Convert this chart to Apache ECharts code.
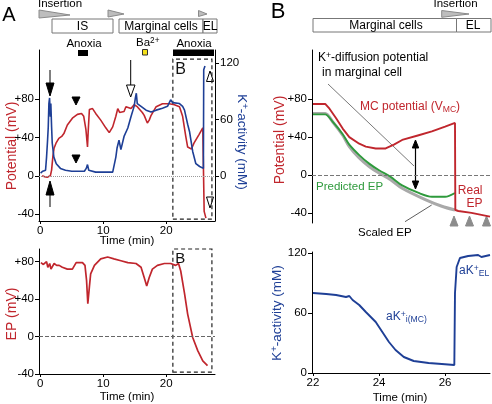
<!DOCTYPE html>
<html><head><meta charset="utf-8">
<script src="https://cdn.jsdelivr.net/npm/echarts@6/dist/echarts.min.js"></script>
<style>html,body{margin:0;padding:0;background:#fff}#c{width:492px;height:404px}</style>
</head><body><div id="c"></div><script>
// ---------- DATA ----------
// Panel A (top): membrane potential (mV) vs time (min)
const aTimeRed = [0.3,0.7,1.1,1.4,1.6,1.8,2.0,2.2,2.5,2.95,3.4,3.75,4.3,5.1,5.9,6.55,6.9,7.25,7.5,7.6,7.8,8.3,8.8,9.6,10.4,10.95,11.5,12.0,12.3,12.6,12.9,13.3,13.6,13.9,14.4,14.9,15.4,15.7,16.2,16.5,17.0,17.3,17.6,18.4,19.4,20.5,21.3,22.1,22.6,23.1,23.4,23.7,24.0,24.4,25.2,25.8,26.0,26.02,26.3];
const aPotential = [0,-1,-1.5,-2,0,6,20,29,34,39,41,44,53,60,64,65,62,48,30,45,69,70,65,58,50,45,51,62,70,66,68,67,72,70,70,74,72,70,66,63,55,58,63,72,75,75,74,72,62,41,30,29,28,34,43,50,52,-37,-44];
// Panel A (top): K+ activity (mM)
const aTimeBlue = [0.05,0.4,0.84,1.0,1.16,1.27,1.37,1.48,1.6,1.68,1.8,1.9,2.16,2.54,3.2,4.0,5.0,6.2,7.0,7.3,7.5,7.7,7.9,8.8,10.0,11.5,11.8,12.0,12.2,12.5,12.8,13.0,13.3,13.9,14.4,14.9,15.1,15.25,15.4,16.0,16.8,17.6,18.4,19.4,20.2,20.7,21.0,21.3,22.1,22.6,22.9,23.4,23.7,24.2,24.7,25.3,25.9,25.95,26.15];
const aKActivity = [3,5,6,20,38,52,77,83,63,77,52,35,20,13,8,6,5,5,5,8,12,6,5,4,4,4,6,20,30,38,28,26,42,51,63,74,83,88,77,74,70,68,70,72,74,81,78,79,77,74,70,55,47,26,13,10,8,113,117];
// Panel A (bottom): EP (mV)
const aTimeEP = [0.1,0.3,0.5,0.8,1.0,1.2,1.5,1.7,2.2,2.6,3.0,3.5,4.3,5.1,5.7,6.7,7.1,7.35,7.55,7.8,8.0,8.6,9.6,10.7,11.7,12.8,13.9,15.2,16.0,16.5,16.9,17.3,17.8,18.6,19.7,20.7,21.5,21.95,22.3,22.9,23.4,24.2,25.0,25.8,26.55];
const aEP = [79,80,77,75,80,74,78,72,78,76,76,74,72,72,79,79,76,60,35,53,67,76,83,85,83,81,79,78,74,63,54,63,72,76,78,78,76,78,70,46,24,-1,-15,-26,-31];
// Panel B (top)
const bTimeMC = [22.0,22.37,22.5,22.7,22.9,23.1,23.4,23.6,23.9,24.2,24.45,24.7,25.2,25.6,26.0,26.3,26.31,26.4,26.8,27.36];
const bMCPotential = [75,75,70,60,49,40,33,30,28,28,32,37,42,46,51,55,-37,-38,-40,-44];
const bTimeScaled = [22.0,22.37,22.6,22.9,23.1,23.4,23.7,24.0,24.35,24.7,25.4,25.9,26.3];
const bScaledEP = [65,65,56,42,30,18,9,2,-5,-14,-26,-33,-37];
const bTimePred = [22.0,22.37,22.6,22.9,23.1,23.4,23.7,24.0,24.35,24.7,25.2,25.6,26.0,26.3];
const bPredictedEP = [64,64,56,43,32,21,12,5,-2,-11,-19,-23,-23,-19];
// Panel B (bottom): K+ activity
const bTimeK = [22.0,22.4,22.7,23.0,23.1,23.2,23.4,23.6,23.9,24.1,24.3,24.5,24.75,25.05,25.5,25.9,26.28,26.3,26.35,26.45,26.7,27.0,27.05,27.1,27.36];
const bKActivity = [80,79,78,76,77,73,68,61,51,41,31,23,16,12,10,9,8,80,106,115,117,118,120,116,118];
// Tick values
const aTimeTicks = [0,10,20];
const potTicks = [-40,0,40,80];
const kTicksA = [0,60,120];
const bTimeTicks = [22,24,26];
const kTicksB = [0,60,120];

// ---------- STYLE ----------
const FF = 'Liberation Sans, Arial, Helvetica, sans-serif';
const RED = '#c0262d', BLUE = '#1e3f96', GREEN = '#2e9a3c', GRAY = '#a9a9a9';
const zip = (a,b) => a.map((t,i)=>[t,b[i]]);
const plus = v => v > 0 ? '+' + v : String(v);

function xAx(grid, min, max, ticks, show){
  return {gridIndex:grid, type:'value', min, max, show: show!==false,
    axisLine:{show:true,onZero:false,lineStyle:{color:'#000',width:1}},
    axisTick:{show:true,customValues:ticks,length:3,lineStyle:{color:'#000'}},
    axisLabel:{customValues:ticks,margin:4,fontSize:11.5,color:'#000',fontFamily:FF},
    splitLine:{show:false}};
}
function yAx(grid, min, max, ticks, pos, fmt){
  return {gridIndex:grid, type:'value', min, max, position:pos,
    axisLine:{show:true,onZero:false,lineStyle:{color:'#000',width:1}},
    axisTick:{show:true,customValues:ticks,length:4,lineStyle:{color:'#000'}},
    axisLabel:{customValues:ticks,margin:5,fontSize:11.5,color:'#000',fontFamily:FF,formatter:fmt||(v=>String(v))},
    splitLine:{show:false}};
}
function txt(x,y,text,size,color,align,extra){
  return Object.assign({type:'text', x, y, silent:true,
    style:{text, font:size+'px '+FF, fontSize:size, fontFamily:FF, fill:color,
      textAlign:align||'left', align:align||'left', textVerticalAlign:'middle', verticalAlign:'middle'}},
    extra&&extra.rotation!==undefined?{rotation:extra.rotation}:{});
}
function poly(points, fill, stroke){
  return {type:'polygon', silent:true, shape:{points}, style:{fill, stroke:stroke||fill, lineWidth:1}};
}
function line(x1,y1,x2,y2,color,w){
  return {type:'line', silent:true, shape:{x1,y1,x2,y2}, style:{stroke:color, lineWidth:w||1}};
}
function rect(x,y,w,h,fill,stroke){
  return {type:'rect', silent:true, shape:{x,y,width:w,height:h}, style:{fill, stroke:stroke||null, lineWidth:1}};
}
const zeroLine = (type,color) => ({symbol:'none', silent:true, label:{show:false},
  lineStyle:{type, color, width:1}, data:[{yAxis:0}]});
const boxB = (x0,y0,x1,y1,fs) => ({silent:true,
  itemStyle:{color:'rgba(0,0,0,0)', borderColor:'#222', borderWidth:1.2, borderType:[4,3]},
  label:{show:true, position:'insideTopLeft', formatter:'B', fontSize:fs, color:'#111', fontFamily:FF, distance:3},
  data:[[{xAxis:x0,yAxis:y0},{xAxis:x1,yAxis:y1}]]});

const supRich = (size,color) => ({
  n:{fontSize:size, fontFamily:FF, fill:color, color:color, lineHeight:size+2},
  s:{fontSize:size*0.72, fontFamily:FF, fill:color, color:color, verticalAlign:'top', lineHeight:size+2},
  b:{fontSize:size*0.72, fontFamily:FF, fill:color, color:color, verticalAlign:'bottom', lineHeight:size+2}
});
function richTxt(x,y,text,size,color,align,rotation){
  const el = {type:'text', x, y, silent:true,
    style:{text, rich:supRich(size,color), font:size+'px '+FF, fill:color,
      textAlign:align||'left', align:align||'left', textVerticalAlign:'middle', verticalAlign:'middle'}};
  if (rotation!==undefined) el.rotation = rotation;
  return el;
}

const graphics = [
  // Panel A header
  txt(9,15,'A',20,'#000','center'),
  txt(60,4,'Insertion',11.5,'#000','center'),
  poly([[39,10],[39,18],[70,15]],'#bdbdbd','#8a8a8a'),
  poly([[108,10],[108,17],[124,14]],'#bdbdbd','#8a8a8a'),
  poly([[198.5,10.5],[198.5,16.5],[207,14]],'#bdbdbd','#8a8a8a'),
  rect(52,19,61,14,'#fff','#777'),
  rect(119,19,84,14,'#fff','#777'),
  rect(203,19,14,14,'#fff','#777'),
  txt(82.5,26.5,'IS',12,'#000','center'),
  txt(161,26.5,'Marginal cells',12,'#000','center'),
  txt(210,26.5,'EL',12,'#000','center'),
  txt(84,43.5,'Anoxia',11.5,'#000','center'),
  rect(78,50,10,6,'#000'),
  richTxt(136,43,'{n|Ba}{s|2+}',11.5,'#000','left'),
  rect(142.5,49.5,5,5.5,'#f5e11a','#333'),
  txt(194,43.5,'Anoxia',11.5,'#000','center'),
  rect(173,49.5,41,6.5,'#000'),
  // Panel A markers
  line(50,70,50,84,'#000',1), poly([[46,83],[54,83],[50,96]],'#000'),
  line(50,195,50,207,'#000',1), poly([[50,181],[46,195],[54,195]],'#000'),
  poly([[72,97],[80,97],[76,105]],'#000'),
  poly([[72,155],[80,155],[76,163]],'#000'),
  line(130.7,60,130.7,85,'#000',1), poly([[126.5,85],[135,85],[130.7,97]],'#fff','#000'),
  poly([[210,71],[206.5,81.5],[213.5,81.5]],'#fff','#000'),
  poly([[206.5,197],[213.5,197],[210,208]],'#fff','#000'),
  // Panel A axis titles
  txt(12,146,'Potential (mV)',14,RED,'center',{rotation:Math.PI/2}),
  richTxt(242,142,'{n|K}{s|+}{n|-activity (mM)}',13.5,BLUE,'center',-Math.PI/2),
  txt(127,241,'Time (min)',11.5,'#000','center'),
  txt(12,314,'EP (mV)',14,RED,'center',{rotation:Math.PI/2}),
  txt(127,397,'Time (min)',11.5,'#000','center'),
  // Panel B header
  txt(278,12,'B',22,'#000','center'),
  txt(455.5,4,'Insertion',11.5,'#000','center'),
  poly([[441.7,10.5],[441.7,17.3],[469,14]],'#bdbdbd','#8a8a8a'),
  rect(313,18.5,143.5,13.5,'#fff','#777'),
  rect(456.5,18.5,34.5,13.5,'#fff','#777'),
  txt(386,25.5,'Marginal cells',12,'#000','center'),
  txt(473,25.5,'EL',12,'#000','center'),
  // Panel B annotations
  richTxt(318,58,'{n|K}{s|+}{n|-diffusion potential}',12,'#000','left'),
  txt(322,73,'in marginal cell',12,'#000','left'),
  line(328,84,414,166,'#555',0.8),
  richTxt(360,107,'{n|MC potential (V}{b|MC}{n|)}',12,RED,'left'),
  line(415.5,146,415.5,183,'#000',1.2),
  poly([[415.5,140],[412.3,148],[418.7,148]],'#000'),
  poly([[415.5,189],[412.3,181],[418.7,181]],'#000'),
  txt(316,187,'Predicted EP',11.5,GREEN,'left'),
  txt(482.5,191,'Real',12,RED,'right'),
  txt(482.5,204,'EP',12,RED,'right'),
  line(405,221.7,431.7,205,'#333',0.8),
  txt(358,233,'Scaled EP',11.5,'#000','left'),
  poly([[454,216],[450,226],[458,226]],'#8c8c8c'),
  poly([[469.5,216],[465.5,226],[473.5,226]],'#8c8c8c'),
  poly([[486.5,216],[482.5,226],[490.5,226]],'#8c8c8c'),
  txt(280,140,'Potential (mV)',14,RED,'center',{rotation:Math.PI/2}),
  richTxt(277,313,'{n|K}{s|+}{n|-activity (mM)}',13.5,BLUE,'center',Math.PI/2),
  richTxt(459,271,'{n|aK}{s|+}{b|EL}',12,BLUE,'left'),
  richTxt(386,317,'{n|aK}{s|+}{b|i(MC)}',12,BLUE,'left'),
  txt(400,397.5,'Time (min)',11.5,'#000','center')
];

const option = {
  animation:false,
  backgroundColor:'#fff',
  textStyle:{fontFamily:FF},
  grid:[
    {left:39, top:50, width:176, height:171, outerBoundsMode:'none', containLabel:false},
    {left:39, top:249, width:176, height:125, outerBoundsMode:'none', containLabel:false},
    {left:312, top:50, width:178, height:173, outerBoundsMode:'none', containLabel:false},
    {left:312, top:252, width:178, height:121, outerBoundsMode:'none', containLabel:false}
  ],
  xAxis:[
    xAx(0,-0.2,27.74,aTimeTicks),
    xAx(1,-0.2,27.74,aTimeTicks),
    xAx(2,21.97,27.36,bTimeTicks,false),
    xAx(3,21.97,27.36,bTimeTicks)
  ],
  yAxis:[
    yAx(0,-47,131,potTicks,'left',plus),
    yAx(0,-48,134,kTicksA,'right'),
    yAx(1,-40,93.5,potTicks,'left',plus),
    yAx(2,-50.7,132,potTicks,'left',plus),
    yAx(3,0,121,kTicksB,'left')
  ],
  series:[
    {name:'A potential', type:'line', xAxisIndex:0, yAxisIndex:0, data:zip(aTimeRed,aPotential),
      symbol:'none', lineStyle:{color:RED,width:1.6}, itemStyle:{color:RED}, z:3,
      markLine:zeroLine('dotted','#9a9a9a'), markArea:boxB(21.05,-45,27.25,121.6,16)},
    {name:'A K+ activity', type:'line', xAxisIndex:0, yAxisIndex:1, data:zip(aTimeBlue,aKActivity),
      symbol:'none', lineStyle:{color:BLUE,width:1.6}, itemStyle:{color:BLUE}, z:3},
    {name:'A EP', type:'line', xAxisIndex:1, yAxisIndex:2, data:zip(aTimeEP,aEP),
      symbol:'none', lineStyle:{color:RED,width:1.7}, itemStyle:{color:RED}, z:3,
      markLine:zeroLine('dashed','#666'), markArea:boxB(21.05,-38,27.25,93.5,15)},
    {name:'Scaled EP', type:'line', xAxisIndex:2, yAxisIndex:3, data:zip(bTimeScaled,bScaledEP),
      symbol:'none', smooth:0.3, lineStyle:{color:GRAY,width:3}, itemStyle:{color:GRAY}, z:2,
      markLine:zeroLine('dashed','#777')},
    {name:'Predicted EP', type:'line', xAxisIndex:2, yAxisIndex:3, data:zip(bTimePred,bPredictedEP),
      symbol:'none', smooth:0.3, lineStyle:{color:GREEN,width:1.9}, itemStyle:{color:GREEN}, z:3},
    {name:'MC potential', type:'line', xAxisIndex:2, yAxisIndex:3, data:zip(bTimeMC,bMCPotential),
      symbol:'none', lineStyle:{color:RED,width:1.9}, itemStyle:{color:RED}, z:4},
    {name:'B K+ activity', type:'line', xAxisIndex:3, yAxisIndex:4, data:zip(bTimeK,bKActivity),
      symbol:'none', lineStyle:{color:BLUE,width:1.9}, itemStyle:{color:BLUE}, z:3}
  ],
  graphic:{elements:graphics}
};
const chart = echarts.init(document.getElementById('c'), null, {renderer:'canvas'});
chart.setOption(option);
</script></body></html>
